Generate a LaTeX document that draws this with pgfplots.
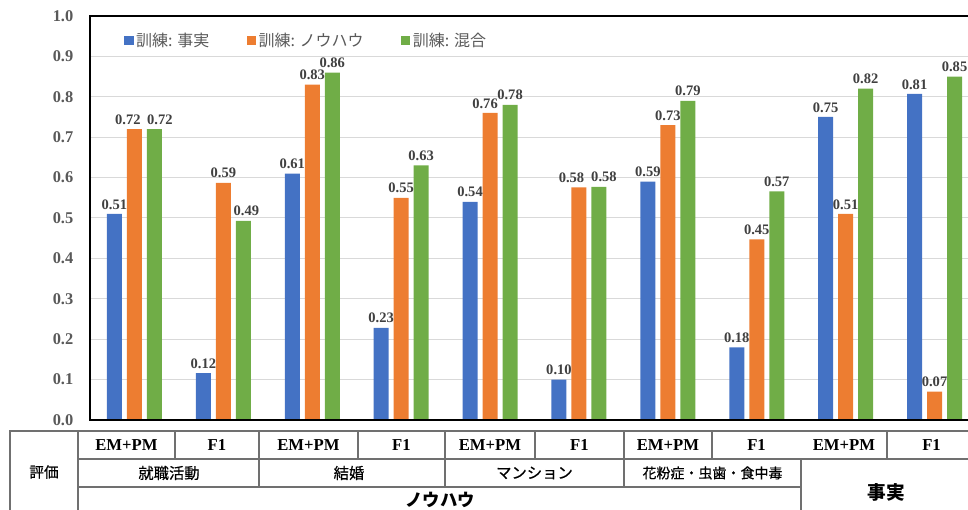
\documentclass[border=0pt]{standalone}
\usepackage{pgfplots}
\pgfplotsset{compat=1.18}
\usepackage{fontspec}
\setmainfont{Liberation Serif}
\newfontfamily\cjk{Noto Sans CJK JP}
\newfontfamily\cjkm[FakeBold=0.5]{Noto Sans CJK JP}
\definecolor{cblue}{HTML}{4472C4}
\definecolor{corange}{HTML}{ED7D31}
\definecolor{cgreen}{HTML}{70AD47}
\definecolor{tickgray}{HTML}{595959}
\definecolor{lblgray}{HTML}{404040}
\definecolor{gridgray}{HTML}{D9D9D9}
\definecolor{tblline}{HTML}{707070}
\begin{document}
\begin{tikzpicture}
\useasboundingbox (0,0) rectangle (726pt,382.5pt);
\begin{axis}[
  at={(67.5pt,67.5pt)}, anchor=south west,
  scale only axis, width=666.75pt, height=303pt,
  xmin=-0.5, xmax=9.5, ymin=0, ymax=1,
  ybar=3.75pt, bar width=11.25pt,
  ytick={0,0.1,0.2,0.3,0.4,0.5,0.6,0.7,0.8,0.9,1.0},
  xtick=\empty,
  major tick length=0pt,
  axis line style={draw=none},
  ymajorgrids, grid style={gridgray, line width=0.75pt},
  /pgf/number format/assume math mode=true,
  yticklabel style={font=\bfseries\fontsize{12.3}{14}\selectfont, text=tickgray, xshift=-9pt,
    /pgf/number format/.cd, fixed, fixed zerofill, precision=1},
  nodes near coords,
  visualization depends on={value \thisrow{s} \as \lblshift},
  every node near coord/.append style={font=\bfseries\fontsize{10.9}{12}\selectfont, text=lblgray,
    xshift=\lblshift pt,
    /pgf/number format/.cd, fixed, fixed zerofill, precision=2},
  clip=false,
  legend style={at={(0.034,0.972)}, anchor=north west, draw=none, fill=none,
    font=\cjk\fontsize{12}{14}\selectfont, text=tickgray,
    /tikz/every even column/.append style={column sep=26pt}},
  legend columns=3,
  legend image code/.code={\fill[#1] (0pt,-3.4pt) rectangle (6.8pt,3.4pt);},
]
\addplot[fill=cblue, draw=none] table[x=x, y=y, row sep=\\] {
x y s \\ 0 0.51 0 \\ 1 0.116 0 \\ 2 0.61 0 \\ 3 0.228 0 \\ 4 0.54 0 \\
5 0.10 0 \\ 6 0.59 0 \\ 7 0.18 0 \\ 8 0.75 0 \\ 9 0.807 0 \\
};
\addplot[fill=corange, draw=none] table[x=x, y=y, row sep=\\] {
x y s \\ 0 0.72 -4.9 \\ 1 0.587 0 \\ 2 0.83 0 \\ 3 0.55 0 \\ 4 0.76 -3.75 \\
5 0.576 -5.6 \\ 6 0.73 0 \\ 7 0.447 0 \\ 8 0.51 0 \\ 9 0.07 0 \\
};
\addplot[fill=cgreen, draw=none] table[x=x, y=y, row sep=\\] {
x y s \\ 0 0.72 4.1 \\ 1 0.493 2.25 \\ 2 0.86 0 \\ 3 0.63 0 \\ 4 0.78 0 \\
5 0.577 3.75 \\ 6 0.79 0 \\ 7 0.566 0 \\ 8 0.82 0 \\ 9 0.85 0 \\
};
\legend{訓練: 事実, 訓練: ノウハウ, 訓練: 混合}
\draw[black, line width=1.7pt] (rel axis cs:1.05,1) -- (rel axis cs:0,1) -- (rel axis cs:0,0) -- (rel axis cs:1.05,0);
\end{axis}
\begin{scope}[x=0.75pt, y=0.75pt]
\begin{scope}[draw=tblline, line width=1.1pt]
\draw (10,-5) -- (10,79) -- (990,79);
\draw (78,-5) -- (78,79);
\draw (78,51) -- (990,51);
\draw (78,23) -- (801,23);
\draw (801,-5) -- (801,51);
\foreach \xx in {175,358,535,712,887} \draw (\xx,79) -- (\xx,51);
\foreach \xx in {259,445,624} \draw (\xx,79) -- (\xx,23);
\end{scope}
\node[font=\cjkm\fontsize{11}{13}\selectfont] at (44,38) {評価};
\foreach \xx/\tt in {126.5/EM+PM,217/F1,308.5/EM+PM,401.5/F1,490/EM+PM,579.5/F1,668/EM+PM,756.5/F1,844/EM+PM,931.5/F1}
  \node[font=\bfseries\fontsize{12.5}{14}\selectfont] at (\xx,65) {\tt};
\node[font=\cjkm\fontsize{11.5}{13}\selectfont] at (169,37) {就職活動};
\node[font=\cjkm\fontsize{11.5}{13}\selectfont] at (349,37) {結婚};
\node[font=\cjkm\fontsize{11.5}{13}\selectfont] at (534.5,37) {マンション};
\node[font=\cjkm\fontsize{10.5}{13}\selectfont] at (712.5,37) {花粉症・虫歯・食中毒};
\node[font=\cjk\bfseries\fontsize{13}{15}\selectfont] at (440,10) {ノウハウ};
\node[font=\cjk\bfseries\fontsize{14}{16}\selectfont] at (886,18) {事実};
\end{scope}
\end{tikzpicture}
\end{document}
